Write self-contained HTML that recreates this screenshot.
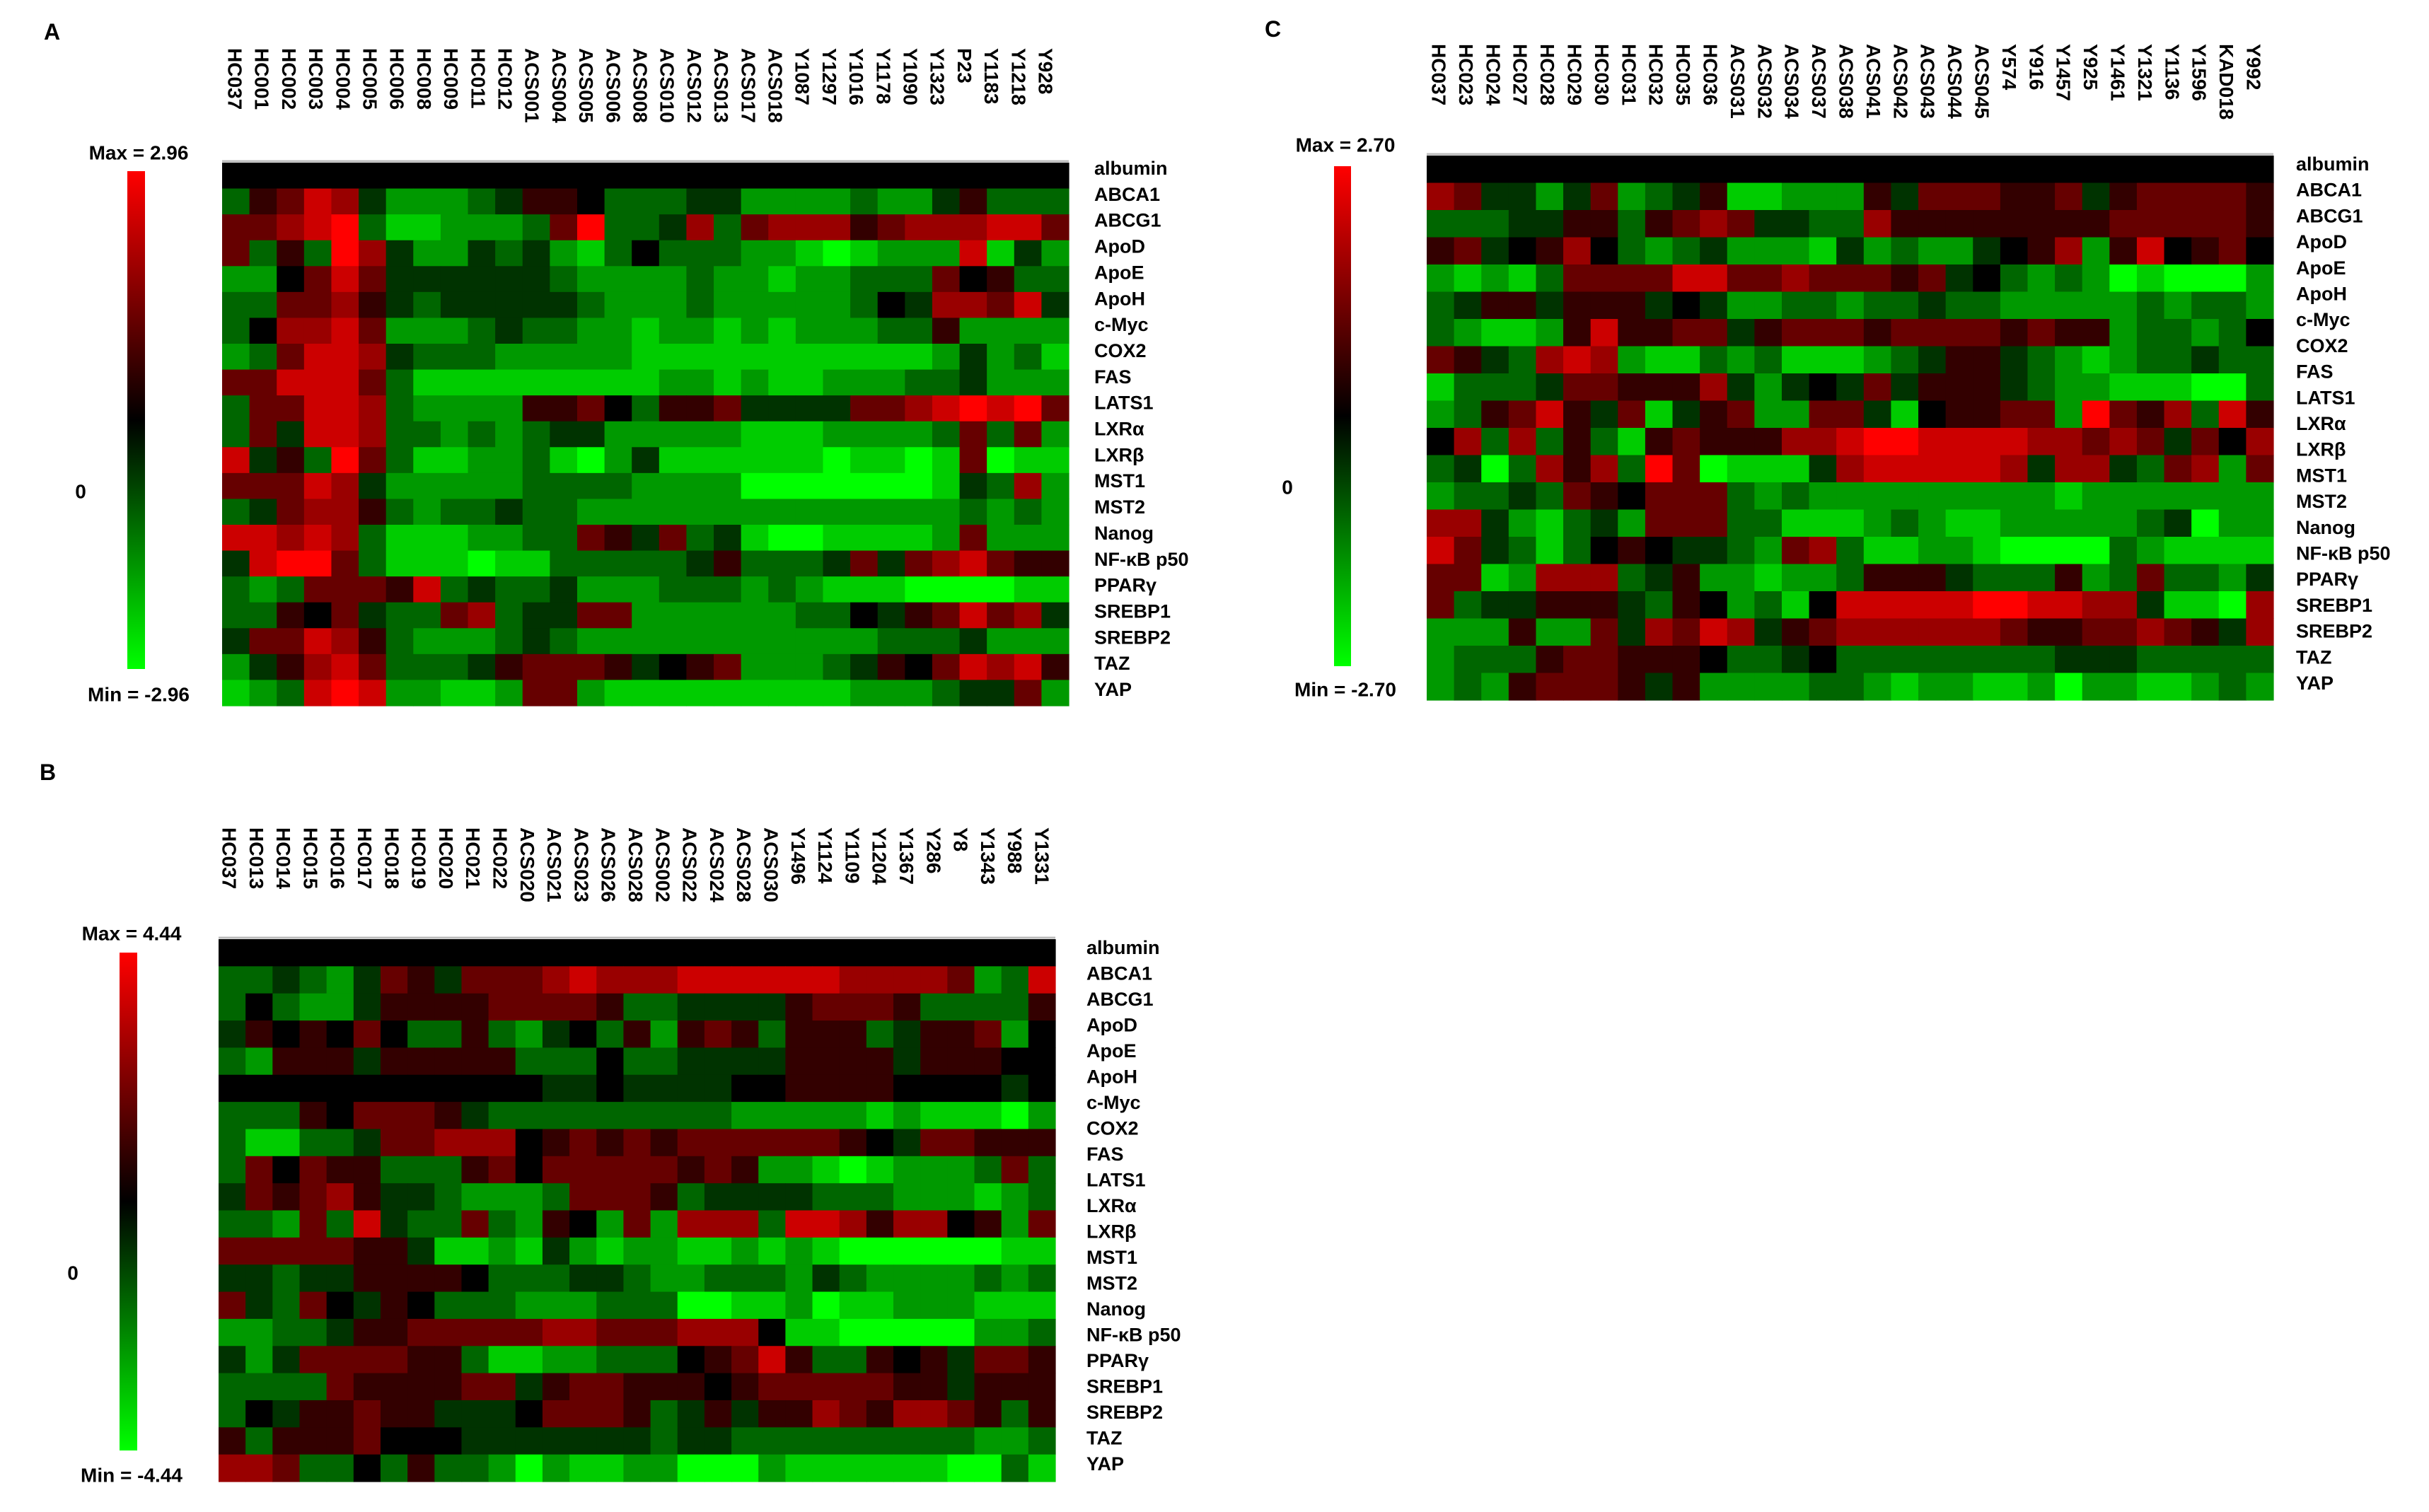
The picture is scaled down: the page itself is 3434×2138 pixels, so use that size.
<!DOCTYPE html>
<html>
<head>
<meta charset="utf-8">
<style>
  html,body{margin:0;padding:0;background:#fff;}
  svg{display:block;}
  text{font-family:"Liberation Sans",Arial,sans-serif;font-weight:bold;fill:#000;}
</style>
</head>
<body>
<svg id="fig" width="3434" height="2138" viewBox="0 0 3434 2138" xmlns="http://www.w3.org/2000/svg">
  <defs>
    <linearGradient id="cbar" x1="0" y1="0" x2="0" y2="1">
      <stop offset="0" stop-color="#ff0000"/>
      <stop offset="0.5" stop-color="#000000"/>
      <stop offset="1" stop-color="#00ff00"/>
    </linearGradient>
  </defs>
  <rect x="0" y="0" width="3434" height="2138" fill="#fff"/>
</svg>
<script>
// ---------------- data ----------------
const rowLabels = ["albumin","ABCA1","ABCG1","ApoD","ApoE","ApoH","c-Myc","COX2","FAS","LATS1","LXRα","LXRβ","MST1","MST2","Nanog","NF-κB p50","PPARγ","SREBP1","SREBP2","TAZ","YAP"];

const colsA = ["HC037","HC001","HC002","HC003","HC004","HC005","HC006","HC008","HC009","HC011","HC012","ACS001","ACS004","ACS005","ACS006","ACS008","ACS010","ACS012","ACS013","ACS017","ACS018","Y1087","Y1297","Y1016","Y1178","Y1090","Y1323","P23","Y1183","Y1218","Y928"];
const colsB = ["HC037","HC013","HC014","HC015","HC016","HC017","HC018","HC019","HC020","HC021","HC022","ACS020","ACS021","ACS023","ACS026","ACS028","ACS002","ACS022","ACS024","ACS028","ACS030","Y1496","Y1124","Y1109","Y1204","Y1367","Y286","Y8","Y1343","Y988","Y1331"];
const colsC = ["HC037","HC023","HC024","HC027","HC028","HC029","HC030","HC031","HC032","HC035","HC036","ACS031","ACS032","ACS034","ACS037","ACS038","ACS041","ACS042","ACS043","ACS044","ACS045","Y574","Y916","Y1457","Y925","Y1461","Y1321","Y1136","Y1596","KAD018","Y992"];

const rangeA = [-2.96, 2.96];
const rangeB = [-4.44, 4.44];
const rangeC = [-2.70, 2.70];
const levelMax = 5;

// values as intensity levels (-5 = max green, +5 = max red)
const heatA = [
 [0,0,0,0,0,0,0,0,0,0,0,0,0,0,0,0,0,0,0,0,0,0,0,0,0,0,0,0,0,0,0],
 [-2,1,2,4,3,-1,-3,-3,-3,-2,-1,1,1,0,-2,-2,-2,-1,-1,-3,-3,-3,-3,-2,-3,-3,-1,1,-2,-2,-2],
 [2,2,3,4,5,-2,-4,-4,-3,-3,-3,-2,2,5,-2,-2,-1,3,-2,2,3,3,3,1,2,3,3,3,4,4,2],
 [2,-2,1,-2,5,3,-1,-3,-3,-1,-2,-1,-3,-4,-2,0,-2,-2,-2,-3,-3,-4,-5,-4,-3,-3,-3,4,-4,-1,-3],
 [-3,-3,0,2,4,2,-1,-1,-1,-1,-1,-1,-2,-3,-3,-3,-3,-2,-3,-3,-4,-3,-3,-2,-2,-2,2,0,1,-2,-2],
 [-2,-2,2,2,3,1,-1,-2,-1,-1,-1,-1,-1,-2,-3,-3,-3,-2,-3,-3,-3,-3,-3,-2,0,-1,3,3,2,4,-1],
 [-2,0,3,3,4,2,-3,-3,-3,-2,-1,-2,-2,-3,-3,-4,-3,-3,-4,-3,-4,-3,-3,-3,-2,-2,1,-3,-3,-3,-3],
 [-3,-2,2,4,4,3,-1,-2,-2,-2,-3,-3,-3,-3,-3,-4,-4,-4,-4,-4,-4,-4,-4,-4,-4,-4,-3,-1,-3,-2,-4],
 [2,2,4,4,4,2,-2,-4,-4,-4,-4,-4,-4,-4,-4,-4,-3,-3,-4,-3,-4,-4,-3,-3,-3,-2,-2,-1,-3,-3,-3],
 [-2,2,2,4,4,3,-2,-3,-3,-3,-3,1,1,2,0,-2,1,1,2,-1,-1,-1,-1,2,2,3,4,5,4,5,2],
 [-2,2,-1,4,4,3,-2,-2,-3,-2,-3,-2,-1,-1,-3,-3,-3,-3,-3,-4,-4,-4,-3,-3,-3,-3,-2,2,-2,2,-3],
 [4,-1,1,-2,5,2,-2,-4,-4,-3,-3,-2,-4,-5,-3,-1,-4,-4,-4,-4,-4,-4,-5,-4,-4,-5,-4,2,-5,-4,-4],
 [2,2,2,4,3,-1,-3,-3,-3,-3,-3,-2,-2,-2,-2,-3,-3,-3,-3,-5,-5,-5,-5,-5,-5,-5,-4,-1,-2,3,-3],
 [-2,-1,2,3,3,1,-2,-3,-2,-2,-1,-2,-2,-3,-3,-3,-3,-3,-3,-3,-3,-3,-3,-3,-3,-3,-3,-2,-3,-2,-3],
 [4,4,3,4,3,-2,-4,-4,-4,-3,-3,-2,-2,2,1,-1,2,-2,-1,-4,-5,-5,-4,-4,-4,-4,-3,2,-3,-3,-3],
 [-1,4,5,5,2,-2,-4,-4,-4,-5,-4,-4,-2,-2,-2,-2,-2,-1,1,-2,-2,-2,-1,2,-1,2,3,4,2,1,1],
 [-2,-3,-2,2,2,2,1,4,-2,-1,-2,-2,-1,-3,-3,-3,-2,-2,-2,-3,-2,-3,-4,-4,-4,-5,-5,-5,-5,-4,-4],
 [-2,-2,1,0,2,-1,-2,-2,2,3,-2,-1,-1,2,2,-3,-3,-3,-3,-3,-3,-2,-2,0,-1,1,2,4,2,3,-1],
 [-1,2,2,4,3,1,-2,-3,-3,-3,-2,-1,-2,-3,-3,-3,-3,-3,-3,-3,-3,-3,-3,-3,-2,-2,-2,-1,-3,-3,-3],
 [-3,-1,1,3,4,2,-2,-2,-2,-1,1,2,2,2,1,-1,0,1,2,-3,-3,-3,-2,-1,1,0,2,4,3,4,1],
 [-4,-3,-2,4,5,4,-3,-3,-4,-4,-3,2,2,-3,-4,-4,-4,-4,-4,-4,-4,-4,-4,-3,-3,-3,-2,-1,-1,2,-3]
];

const heatB = [
 [0,0,0,0,0,0,0,0,0,0,0,0,0,0,0,0,0,0,0,0,0,0,0,0,0,0,0,0,0,0,0],
 [-2,-2,-1,-2,-3,-1,2,1,-1,2,2,2,3,4,3,3,3,4,4,4,4,4,4,3,3,3,3,2,-3,-2,4],
 [-2,0,-2,-3,-3,-1,1,1,1,1,2,2,2,2,1,-2,-2,-1,-1,-1,-1,1,2,2,2,1,-2,-2,-2,-2,1],
 [-1,1,0,1,0,2,0,-2,-2,1,-2,-3,-1,0,-2,1,-3,1,2,1,-2,1,1,1,-2,-1,1,1,2,-3,0],
 [-2,-3,1,1,1,-1,1,1,1,1,1,-2,-2,-2,0,-2,-2,-1,-1,-1,-1,1,1,1,1,-1,1,1,1,0,0],
 [0,0,0,0,0,0,0,0,0,0,0,0,-1,-1,0,-1,-1,-1,-1,0,0,1,1,1,1,0,0,0,0,-1,0],
 [-2,-2,-2,1,0,2,2,2,1,-1,-2,-2,-2,-2,-2,-2,-2,-2,-2,-3,-3,-3,-3,-3,-4,-3,-4,-4,-4,-5,-3],
 [-2,-4,-4,-2,-2,-1,2,2,3,3,3,0,1,2,1,2,1,2,2,2,2,2,2,1,0,-1,2,2,1,1,1],
 [-2,2,0,2,1,1,-2,-2,-2,1,2,0,2,2,2,2,2,1,2,1,-3,-3,-4,-5,-4,-3,-3,-3,-2,2,-2],
 [-1,2,1,2,3,1,-1,-1,-2,-3,-3,-3,-2,2,2,2,1,-2,-1,-1,-1,-1,-2,-2,-2,-3,-3,-3,-4,-3,-2],
 [-2,-2,-3,2,-2,4,-1,-2,-2,2,-2,-3,1,0,-3,2,-3,3,3,3,-2,4,4,3,1,3,3,0,1,-3,2],
 [2,2,2,2,2,1,1,-1,-4,-4,-3,-4,-1,-3,-4,-3,-3,-4,-4,-3,-4,-3,-4,-5,-5,-5,-5,-5,-5,-4,-4],
 [-1,-1,-2,-1,-1,1,1,1,1,0,-2,-2,-2,-1,-1,-2,-3,-3,-2,-2,-2,-3,-1,-2,-3,-3,-3,-3,-2,-3,-2],
 [2,-1,-2,2,0,-1,1,0,-2,-2,-2,-3,-3,-3,-2,-2,-2,-5,-5,-4,-4,-3,-5,-4,-4,-3,-3,-3,-4,-4,-4],
 [-3,-3,-2,-2,-1,1,1,2,2,2,2,2,3,3,2,2,2,3,3,3,0,-4,-4,-5,-5,-5,-5,-5,-3,-3,-2],
 [-1,-3,-1,2,2,2,2,1,1,-2,-4,-4,-3,-3,-2,-2,-2,0,1,2,4,1,-2,-2,1,0,1,-1,2,2,1],
 [-2,-2,-2,-2,2,1,1,1,1,2,2,-1,1,2,2,1,1,1,0,1,2,2,2,2,2,1,1,-1,1,1,1],
 [-2,0,-1,1,1,2,1,1,-1,-1,-1,0,2,2,2,1,-2,-1,1,-1,1,1,3,2,1,3,3,2,1,-2,1],
 [1,-2,1,1,1,2,0,0,0,-1,-1,-1,-1,-1,-1,-1,-2,-1,-1,-2,-2,-2,-2,-2,-2,-2,-2,-2,-3,-3,-2],
 [3,3,2,-2,-2,0,-2,1,-2,-2,-3,-5,-3,-4,-4,-3,-3,-5,-5,-5,-3,-4,-4,-4,-4,-4,-4,-5,-5,-2,-4]
];

const heatC = [
 [0,0,0,0,0,0,0,0,0,0,0,0,0,0,0,0,0,0,0,0,0,0,0,0,0,0,0,0,0,0,0],
 [3,2,-1,-1,-3,-1,2,-3,-2,-1,1,-4,-4,-3,-3,-3,1,-1,2,2,2,1,1,2,-1,1,2,2,2,2,1],
 [-2,-2,-2,-1,-1,1,1,-2,1,2,3,2,-1,-1,-2,-2,3,1,1,1,1,1,1,1,1,2,2,2,2,2,1],
 [1,2,-1,0,1,3,0,-2,-3,-2,-1,-3,-3,-3,-4,-1,-3,-2,-3,-3,-1,0,1,3,-3,1,4,0,1,2,0],
 [-3,-4,-3,-4,-2,2,2,2,2,4,4,2,2,3,2,2,2,1,2,-1,0,-2,-3,-2,-3,-5,-4,-5,-5,-5,-3],
 [-2,-1,1,1,-1,1,1,1,-1,0,-1,-3,-3,-2,-2,-3,-2,-2,-1,-2,-2,-3,-3,-3,-3,-3,-2,-3,-2,-2,-3],
 [-2,-3,-4,-4,-3,1,4,1,1,2,2,-1,1,2,2,2,1,2,2,2,2,1,2,1,1,-3,-2,-2,-3,-2,0],
 [2,1,-1,-2,3,4,3,-3,-4,-4,-2,-3,-2,-4,-4,-4,-3,-2,-1,1,1,-1,-2,-3,-4,-3,-2,-2,-1,-2,-2],
 [-4,-2,-2,-2,-1,2,2,1,1,1,3,-1,-3,-1,0,-1,2,-1,1,1,1,-1,-2,-3,-3,-4,-4,-4,-5,-5,-2],
 [-3,-2,1,2,4,1,-1,2,-4,-1,1,2,-3,-3,2,2,-1,-4,0,1,1,2,2,-3,5,2,1,3,-2,4,1],
 [0,3,-2,3,-2,1,-2,-4,1,2,1,1,1,3,3,4,5,5,4,4,4,4,3,3,2,3,2,-1,2,0,3],
 [-2,-1,-5,-2,3,1,3,-2,5,2,-5,-4,-4,-4,-1,3,4,4,4,4,4,3,-1,3,3,-1,-2,2,3,-3,2],
 [-3,-2,-2,-1,-2,2,1,0,2,2,2,-2,-3,-2,-3,-3,-3,-3,-3,-3,-3,-3,-3,-4,-3,-3,-3,-3,-3,-3,-3],
 [3,3,-1,-3,-4,-2,-1,-3,2,2,2,-2,-2,-4,-4,-4,-3,-2,-3,-4,-4,-3,-3,-3,-3,-3,-2,-1,-5,-3,-3],
 [4,2,-1,-2,-4,-2,0,1,0,-1,-1,-2,-3,2,3,-2,-4,-4,-3,-3,-4,-5,-5,-5,-5,-2,-3,-4,-4,-4,-4],
 [2,2,-4,-3,3,3,3,-2,-1,1,-3,-3,-4,-3,-3,-2,1,1,1,-1,-2,-2,-2,1,-3,-2,2,-2,-2,-3,-1],
 [2,-2,-1,-1,1,1,1,-1,-2,1,0,-3,-2,-4,0,4,4,4,4,4,5,5,4,4,3,3,-1,-4,-4,-5,3],
 [-3,-3,-3,1,-3,-3,2,-1,3,2,4,3,-1,1,2,3,3,3,3,3,3,2,1,1,2,2,3,2,1,-1,3],
 [-3,-2,-2,-2,1,2,2,1,1,1,0,-2,-2,-1,0,-2,-2,-2,-2,-2,-2,-2,-2,-1,-1,-1,-2,-2,-2,-2,-2],
 [-3,-2,-3,1,2,2,2,1,-1,1,-3,-3,-3,-3,-2,-2,-3,-4,-3,-3,-4,-4,-3,-5,-3,-3,-4,-4,-3,-2,-3]
];

// ---------------- layout ----------------
const panels = [
  {id:"a", letter:"A", lx:62, ly:56, heat:heatA, cols:colsA, range:rangeA,
   x0:314, x1:1511, y0:230, y1:998,
   colLab0:332, colLabStep:38.2, colLabTop:68,
   rowLabX:1547, rowLab0:238, rowLabStep:36.85,
   bar:{x:180,w:25,y0:242,y1:946}, maxY:216, zeroX:114, zeroY:695, minY:982, labCx:196},
  {id:"b", letter:"B", lx:56, ly:1103, heat:heatB, cols:colsB, range:rangeB,
   x0:309, x1:1492, y0:1328, y1:2095,
   colLab0:324, colLabStep:38.3, colLabTop:1170,
   rowLabX:1536, rowLab0:1340, rowLabStep:36.5,
   bar:{x:169,w:25,y0:1347,y1:2051}, maxY:1320, zeroX:103, zeroY:1800, minY:2086, labCx:186},
  {id:"c", letter:"C", lx:1788, ly:52, heat:heatC, cols:colsC, range:rangeC,
   x0:2017, x1:3214, y0:220, y1:990,
   colLab0:2034, colLabStep:38.4, colLabTop:62,
   rowLabX:3246, rowLab0:232, rowLabStep:36.7,
   bar:{x:1886,w:24,y0:235,y1:942}, maxY:205, zeroX:1820, zeroY:689, minY:975, labCx:1902}
];

const NS = "http://www.w3.org/2000/svg";
const svg = document.getElementById("fig");

function colorFor(v, range) {
  const t = Math.max(-1, Math.min(1, v / range[1]));
  const c = Math.round(255 * Math.abs(t));
  return t >= 0 ? `rgb(${c},0,0)` : `rgb(0,${c},0)`;
}
function mk(tag, attrs, parent) {
  const el = document.createElementNS(NS, tag);
  for (const k in attrs) el.setAttribute(k, attrs[k]);
  (parent || svg).appendChild(el);
  return el;
}
function fmt(v){ return v.toFixed(2); }

panels.forEach(p => {
  const g = mk("g", {});
  
  

  const L = mk("text", {x:p.lx, y:p.ly, "font-size":32}, g);
  L.textContent = p.letter;
  
  

  const hg = mk("g", {}, g);
  
  
  const nRows = p.heat.length, nCols = p.cols.length;
  const xScale = c => p.x0 + c * (p.x1 - p.x0) / nCols;
  const yScale = r => p.y0 + r * (p.y1 - p.y0) / nRows;
  const valScale = lv => lv * p.range[1] / levelMax;
  p.heat.forEach((row, r) => {
    row.forEach((lv, c) => {
      const x = xScale(c), y = yScale(r);
      const cell = mk("rect", {x:x.toFixed(2), y:y.toFixed(2),
        width:(xScale(c+1)-x+0.6).toFixed(2), height:(yScale(r+1)-y+0.6).toFixed(2),
        fill: colorFor(valScale(lv), p.range)}, hg);
      
      
    });
  });
  const top = mk("line", {x1:p.x0, x2:p.x1, y1:p.y0-2, y2:p.y0-2, stroke:"#bbb", "stroke-width":3}, g);
  
  

  p.cols.forEach((name, i) => {
    const x = p.colLab0 + i * p.colLabStep, y = p.colLabTop;
    const t = mk("text", {x:x, y:y, "font-size":28, "dominant-baseline":"central",
      transform:`rotate(90 ${x} ${y})`}, g);
    t.textContent = name;
    
    
  });

  rowLabels.forEach((name, i) => {
    const t = mk("text", {x:p.rowLabX, y:p.rowLab0 + i * p.rowLabStep, "font-size":27,
      "dominant-baseline":"central"}, g);
    t.textContent = name;
    
    
  });

  const b = p.bar;
  const bar = mk("rect", {x:b.x, y:b.y0, width:b.w, height:b.y1-b.y0, fill:"url(#cbar)"}, g);
  
  

  const mx = mk("text", {x:p.labCx, y:p.maxY, "font-size":28, "text-anchor":"middle",
    "dominant-baseline":"central"}, g);
  mx.textContent = "Max = " + fmt(p.range[1]);
  
  

  const z = mk("text", {x:p.zeroX, y:p.zeroY, "font-size":28, "text-anchor":"middle",
    "dominant-baseline":"central"}, g);
  z.textContent = "0";
  
  

  const mn = mk("text", {x:p.labCx, y:p.minY, "font-size":28, "text-anchor":"middle",
    "dominant-baseline":"central"}, g);
  mn.textContent = "Min = " + fmt(p.range[0]);
  
  
});
</script>
</body>
</html>
